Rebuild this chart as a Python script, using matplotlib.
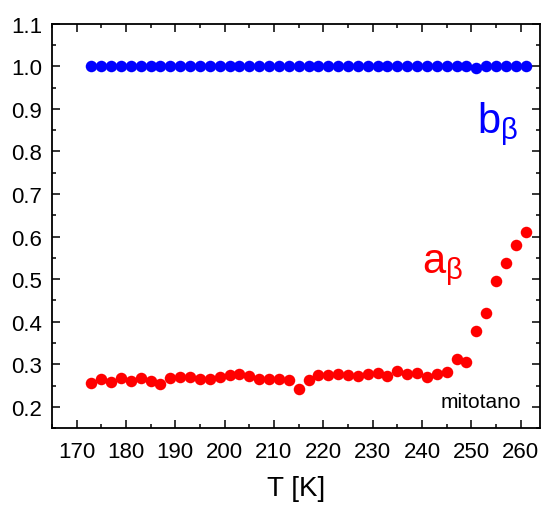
import matplotlib
matplotlib.use('Agg')
import matplotlib.pyplot as plt

plt.rcParams['font.family'] = ['Liberation Sans', 'DejaVu Sans']
plt.rcParams['mathtext.fontset'] = 'custom'
plt.rcParams['mathtext.rm'] = 'Liberation Sans'
plt.rcParams['mathtext.it'] = 'Liberation Sans'

# temperature points [K]
T = list(range(173, 262, 2))

# stretching exponent b_beta, essentially fixed at 1
b_beta = [1.0] * 39 + [0.996] + [1.0] * 5

# a_beta
a_beta = [0.255, 0.266, 0.259, 0.267, 0.260, 0.267, 0.261, 0.254, 0.267, 0.271,
          0.271, 0.265, 0.265, 0.269, 0.275, 0.278, 0.272, 0.265, 0.265, 0.266,
          0.263, 0.242, 0.262, 0.274, 0.274, 0.276, 0.274, 0.272, 0.276, 0.280,
          0.273, 0.283, 0.277, 0.280, 0.271, 0.276, 0.281, 0.312, 0.305, 0.377,
          0.421, 0.496, 0.539, 0.581, 0.610]

xticks = list(range(170, 261, 10))
yticks = [0.2, 0.3, 0.4, 0.5, 0.6, 0.7, 0.8, 0.9, 1.0, 1.1]

fig = plt.figure(figsize=(5.41, 5.06), dpi=100)
ax = fig.add_axes([0.096, 0.152, 0.903, 0.799])

ax.plot(T, b_beta, 'o', color='#0000ff', markersize=8.3, markeredgewidth=0)
ax.plot(T, a_beta, 'o', color='#ff0000', markersize=8.3, markeredgewidth=0)

ax.set_xlim(165, 264)
ax.set_ylim(0.15, 1.1)
ax.set_xticks(xticks)
ax.set_xticks(range(165, 264, 5), minor=True)
ax.set_yticks(yticks)
ax.set_yticks([0.15 + 0.05 * i for i in range(20)], minor=True)
ax.set_yticklabels(['%.1f' % v for v in yticks])

ax.tick_params(which='both', direction='in', top=True, right=True,
               labelsize=16, width=1.1)
ax.tick_params(axis='x', pad=9)
ax.tick_params(axis='y', pad=7)
ax.tick_params(which='major', length=6)
ax.tick_params(which='minor', length=3)
for s in ax.spines.values():
    s.set_linewidth(1.3)

ax.set_xlabel('T [K]', fontsize=20, labelpad=10)

ax.text(0.955, 0.733, r'b$_\beta$', transform=ax.transAxes, color='#0000ff',
        fontsize=30, ha='right', va='baseline')
ax.text(0.842, 0.387, r'a$_\beta$', transform=ax.transAxes, color='#ff0000',
        fontsize=30, ha='right', va='baseline')
ax.text(0.961, 0.052, 'mitotano', transform=ax.transAxes, color='black',
        fontsize=15, ha='right', va='baseline')

fig.savefig('out.png', dpi=100)
